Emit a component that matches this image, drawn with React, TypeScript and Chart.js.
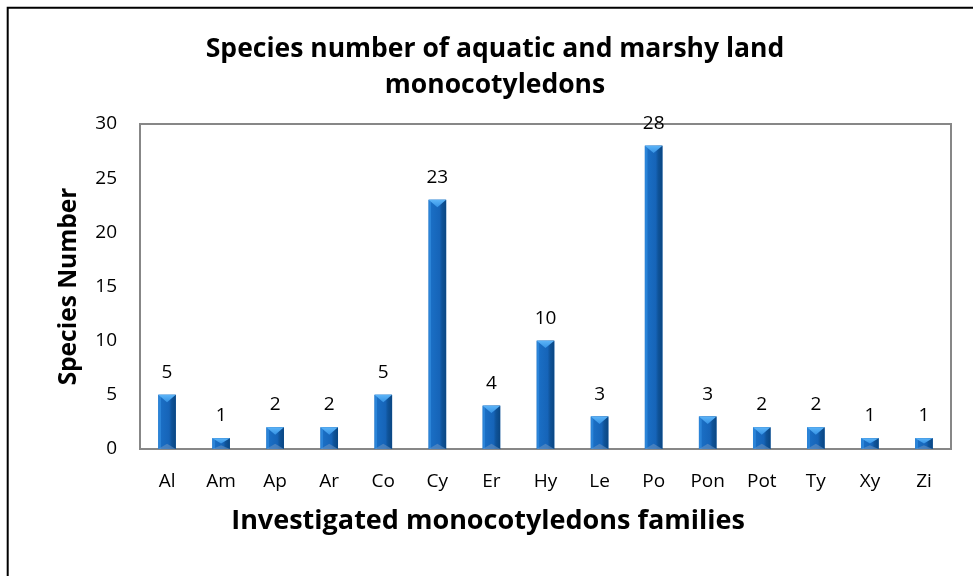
import React, { useEffect, useRef } from "react";
import { Chart, registerables } from "chart.js";

Chart.register(...registerables);

const categories = ["Al", "Am", "Ap", "Ar", "Co", "Cy", "Er", "Hy", "Le", "Po", "Pon", "Pot", "Ty", "Xy", "Zi"];
const speciesCounts = [5, 1, 2, 2, 5, 23, 4, 10, 3, 28, 3, 2, 2, 1, 1];
const yTicks = [0, 5, 10, 15, 20, 25, 30];
const titleLines = ["Species number of aquatic and marshy land", "monocotyledons"];
const yTitle = "Species Number";
const xTitle = "Investigated monocotyledons families";

const FONT = "'Open Sans', 'DejaVu Sans', sans-serif";

const framePlugin = {
  id: "frame",
  beforeDraw(chart: any) {
    const ctx = chart.ctx;
    ctx.save();
    ctx.fillStyle = "#ffffff";
    ctx.fillRect(0, 0, chart.width, chart.height);
    ctx.strokeStyle = "#000000";
    ctx.lineWidth = 2;
    ctx.beginPath();
    ctx.moveTo(7.7, chart.height + 2);
    ctx.lineTo(7.7, 7.7);
    ctx.lineTo(chart.width + 2, 7.7);
    ctx.stroke();
    ctx.restore();
  },
  beforeDatasetsDraw(chart: any) {
    const { ctx, chartArea: a } = chart;
    ctx.save();
    ctx.strokeStyle = "#878787";
    ctx.lineWidth = 2;
    ctx.strokeRect(a.left, a.top, a.right - a.left, a.bottom - a.top);
    ctx.restore();
  },
  afterDraw(chart: any) {
    const ctx = chart.ctx;
    ctx.save();
    ctx.fillStyle = "#000000";
    ctx.textAlign = "center";
    ctx.textBaseline = "alphabetic";
    ctx.font = `bold 26.5px ${FONT}`;
    ctx.fillText(titleLines[0], 495, 57);
    ctx.fillText(titleLines[1], 495, 93);
    ctx.font = `bold 27px ${FONT}`;
    ctx.fillText(xTitle, 488, 529);
    ctx.translate(76, (chart.chartArea.top + chart.chartArea.bottom) / 2);
    ctx.rotate(-Math.PI / 2);
    ctx.font = `bold 24.5px ${FONT}`;
    ctx.fillText(yTitle, 0, 0);
    ctx.restore();
  },
};

const bevelPlugin = {
  id: "bevel",
  afterDatasetsDraw(chart: any) {
    const ctx = chart.ctx;
    const meta = chart.getDatasetMeta(0);
    const values = chart.data.datasets[0].data;
    ctx.save();
    meta.data.forEach((bar: any, i: number) => {
      const { x, y, base, width } = bar.getProps(["x", "y", "base", "width"], true);
      const L = x - width / 2;
      const R = x + width / 2;
      const t = Math.min(y, base);
      const b = Math.max(y, base);
      const h = b - t;
      const g = ctx.createLinearGradient(L, 0, R, 0);
      g.addColorStop(0, "#2b84d8");
      g.addColorStop(0.14, "#2b84d8");
      g.addColorStop(0.16, "#1a6ec4");
      g.addColorStop(0.62, "#1664b8");
      g.addColorStop(0.76, "#0f5399");
      g.addColorStop(1, "#0a4682");
      ctx.fillStyle = g;
      ctx.fillRect(L, t, width, h);
      const dh = Math.min(width * 0.42, h / 2);
      const tg = ctx.createLinearGradient(0, t, 0, t + dh);
      tg.addColorStop(0, "#5cb4f8");
      tg.addColorStop(1, "#3592e4");
      ctx.fillStyle = tg;
      ctx.beginPath();
      ctx.moveTo(L, t);
      ctx.lineTo(R, t);
      ctx.lineTo(x, t + dh);
      ctx.closePath();
      ctx.fill();
      ctx.fillStyle = "rgba(110,150,195,0.55)";
      ctx.beginPath();
      ctx.moveTo(L, b);
      ctx.lineTo(R, b);
      ctx.lineTo(x, b - dh * 0.7);
      ctx.closePath();
      ctx.fill();
      ctx.fillStyle = "#000000";
      ctx.font = `19px ${FONT}`;
      ctx.textAlign = "center";
      ctx.textBaseline = "alphabetic";
      ctx.fillText(String(values[i]), x, t - 17);
    });
    ctx.restore();
  },
};

export default function App() {
  const ref = useRef<HTMLCanvasElement>(null);
  useEffect(() => {
    if (!ref.current) return;
    const chart = new Chart(ref.current, {
      type: "bar",
      data: {
        labels: categories,
        datasets: [
          {
            data: speciesCounts,
            backgroundColor: "#1a68b8",
            borderWidth: 0,
            categoryPercentage: 1,
            barPercentage: 0.325,
          },
        ],
      },
      options: {
        responsive: false,
        animation: false,
        events: [],
        layout: { padding: { top: 124, right: 22, bottom: 0, left: 0 } },
        plugins: {
          legend: { display: false },
          tooltip: { enabled: false },
          title: { display: false },
        },
        scales: {
          x: {
            grid: { display: false, drawTicks: false },
            border: { display: false },
            ticks: { color: "#000000", font: { family: FONT, size: 19 }, padding: 21, maxRotation: 0, autoSkip: false },
            afterFit(scale: any) {
              scale.height = 576 - 449;
            },
          },
          y: {
            min: 0,
            max: 30,
            grid: { display: false, drawTicks: false },
            border: { display: false },
            afterBuildTicks(scale: any) {
              scale.ticks = yTicks.map((v) => ({ value: v }));
            },
            ticks: { color: "#000000", font: { family: FONT, size: 19 }, padding: 23 },
            afterFit(scale: any) {
              scale.width = 140;
            },
          },
        },
      },
      plugins: [framePlugin, bevelPlugin],
    });
    return () => chart.destroy();
  }, []);
  return (
    <div style={{ position: "fixed", left: 0, top: 0, width: 973, height: 576 }}>
      <canvas ref={ref} width={973} height={576} style={{ display: "block" }} />
    </div>
  );
}
